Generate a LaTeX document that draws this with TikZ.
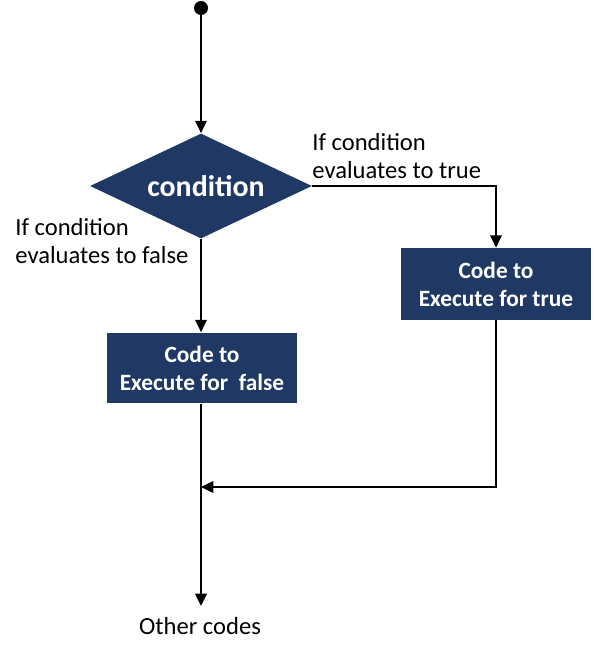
\documentclass[tikz,border=0pt]{standalone}
\usepackage{fontspec}
\setmainfont{Carlito}
\usetikzlibrary{shapes.geometric,arrows.meta}
\definecolor{navy}{HTML}{1F3864}
\tikzset{
  arr/.style={line width=1.2pt,-{Triangle[length=7pt,width=6.5pt]}},
  codebox/.style={rectangle,fill=navy,text=white,font=\bfseries\fontsize{13.3}{16}\selectfont,align=center,minimum width=3.8cm,minimum height=1.44cm,inner sep=0pt},
  note/.style={font=\fontsize{14}{16}\selectfont,align=left,inner sep=0pt}
}
\begin{document}
\begin{tikzpicture}[x=0.02cm,y=-0.02cm]
 \useasboundingbox (0,0) rectangle (594,658);

 %Start
 \node[circle,fill=black,inner sep=0pt,minimum size=0.28cm] (start) at (201,8) {};

 %Decision
 \node[diamond,fill=navy,text=white,font=\bfseries\fontsize{17}{20}\selectfont,inner sep=0pt,aspect=2.11,minimum width=4.44cm,minimum height=2.1cm] (cond) at (201,186) {\hspace*{0.2cm}condition};

 %Boxes
 \node[codebox] (truebox) at (496,284) {Code to\\Execute for true};
 \node[codebox,minimum height=1.42cm] (falsebox) at (202,368) {Code to\\Execute for~~false};

 %Labels
 \node[note,anchor=west] (truelbl) at (312,156) {If condition\\evaluates to true};
 \node[note,anchor=west] (falselbl) at (15,241) {If condition\\evaluates to false};
 \node[note,anchor=north] (other) at (200,617) {Other codes};
 \coordinate (merge) at (201,487);
 \coordinate (end) at (201,606);

 %Connectors
 \draw[arr] (start) -- (cond.north);
 \draw[arr] (cond.east) -| (truebox.north);
 \draw[arr] (cond.south) -- (cond.south |- falsebox.north);
 \draw[arr] (falsebox.south -| cond.south) -- (end);
 \draw[arr] (truebox.south) |- (merge);

\end{tikzpicture}
\end{document}
